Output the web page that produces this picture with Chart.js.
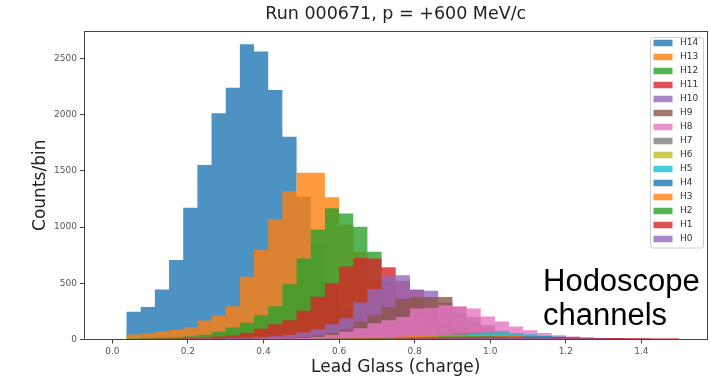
<!DOCTYPE html>
<html>
<head>
<meta charset="utf-8">
<script src="https://cdn.jsdelivr.net/npm/chart.js@4.4.1/dist/chart.umd.min.js"></script>
<style>
  body { margin: 0; background: #fff; }
  #wrap { width: 710px; height: 380px; position: relative; }
</style>
</head>
<body>
<div id="wrap"><canvas id="histChart"></canvas></div>
<script>
// Binning of the histogram: 40 bins from 0.0 to 1.5
const binStart = 0.0;
const binWidth = 0.0375;
const binCount = 40;

// Tick labels
const xTickValues = [0.0, 0.2, 0.4, 0.6, 0.8, 1.0, 1.2, 1.4];
const yTickValues = [0, 500, 1000, 1500, 2000, 2500];

// Hodoscope channels, in the order they were plotted (H14 first, H0 last)
const channels = ['H14', 'H13', 'H12', 'H11', 'H10', 'H9', 'H8', 'H7', 'H6', 'H5', 'H4', 'H3', 'H2', 'H1', 'H0'];
const channelColors = [
    '31,119,180', '255,127,14', '44,160,44', '214,39,40', '148,103,189',
    '140,86,75', '227,119,194', '127,127,127', '188,189,34', '23,190,207',
    '31,119,180', '255,127,14', '44,160,44', '214,39,40', '148,103,189'
];

// Counts per bin for each channel
const h14 = [0, 246, 290, 445, 706, 1171, 1551, 2011, 2239, 2625, 2560, 2219, 1803, 1270, 850, 500, 260, 120, 50, 22, 10, 6, 4, 3, 2, 2, 1, 1, 1, 0, 0, 0, 0, 0, 0, 0, 0, 0, 0, 0];
const h13 = [0, 45, 55, 68, 85, 110, 170, 215, 295, 557, 795, 1068, 1320, 1483, 1483, 1265, 1020, 780, 540, 340, 200, 110, 60, 35, 22, 15, 10, 7, 5, 4, 3, 2, 2, 1, 1, 1, 0, 0, 0, 0];
const h12 = [0, 10, 12, 15, 20, 28, 42, 68, 107, 150, 216, 296, 492, 721, 979, 1166, 1121, 1002, 780, 520, 330, 200, 120, 70, 42, 26, 16, 10, 7, 5, 4, 3, 2, 2, 1, 1, 1, 0, 0, 0];
const h11 = [0, 5, 6, 8, 10, 13, 18, 26, 38, 60, 95, 135, 172, 255, 380, 500, 650, 725, 721, 643, 520, 440, 260, 140, 80, 50, 33, 25, 19, 16, 14, 12, 11, 10, 9, 8, 8, 7, 7, 6];
const h10 = [0, 2, 3, 4, 5, 6, 8, 10, 13, 17, 22, 30, 42, 62, 92, 135, 190, 330, 450, 560, 572, 445, 433, 330, 230, 150, 92, 58, 36, 23, 15, 10, 7, 5, 4, 3, 2, 2, 1, 1];
const h9 = [0, 1, 2, 2, 3, 4, 5, 6, 7, 8, 9, 10, 12, 20, 35, 55, 90, 155, 215, 290, 360, 375, 378, 378, 290, 200, 130, 80, 50, 32, 20, 13, 9, 6, 4, 3, 2, 2, 1, 1];
const h8 = [0, 0, 1, 1, 2, 2, 3, 3, 4, 5, 6, 8, 10, 14, 22, 40, 68, 100, 145, 172, 201, 276, 280, 305, 295, 276, 205, 160, 115, 83, 58, 38, 27, 19, 14, 10, 7, 5, 4, 3];
const h7 = [0, 0, 0, 0, 0, 0, 0, 1, 1, 1, 2, 2, 3, 4, 5, 6, 8, 10, 13, 17, 22, 28, 34, 42, 55, 60, 55, 46, 36, 26, 18, 12, 8, 5, 3, 2, 1, 1, 1, 0];
const h6 = [0, 0, 0, 0, 0, 0, 0, 0, 0, 1, 1, 1, 2, 2, 3, 4, 5, 7, 9, 12, 16, 21, 27, 33, 40, 46, 50, 48, 42, 34, 26, 18, 12, 8, 5, 3, 2, 1, 1, 0];
const h5 = [0, 0, 0, 0, 0, 0, 0, 0, 0, 0, 1, 1, 1, 2, 2, 3, 4, 5, 7, 9, 12, 16, 22, 30, 40, 52, 62, 65, 58, 46, 34, 24, 16, 10, 6, 4, 2, 1, 1, 0];
const h4 = [0, 0, 0, 0, 0, 0, 0, 0, 0, 0, 0, 1, 1, 1, 1, 2, 2, 3, 4, 5, 6, 8, 10, 13, 16, 20, 24, 27, 29, 30, 28, 24, 19, 14, 10, 8, 7, 6, 3, 1];
const h3 = [0, 0, 0, 0, 0, 0, 0, 0, 1, 1, 1, 2, 2, 3, 4, 6, 8, 11, 15, 20, 26, 34, 38, 38, 36, 38, 40, 37, 32, 25, 18, 12, 8, 5, 3, 2, 1, 1, 0, 0];
const h2 = [0, 1, 1, 1, 1, 1, 2, 2, 2, 3, 3, 4, 4, 5, 6, 7, 8, 10, 12, 15, 18, 22, 25, 28, 30, 30, 28, 25, 20, 15, 11, 8, 5, 3, 2, 1, 1, 0, 0, 0];
const h1 = [0, 1, 1, 1, 1, 2, 2, 2, 3, 3, 3, 4, 4, 5, 5, 6, 7, 8, 9, 10, 12, 14, 16, 18, 20, 22, 24, 25, 24, 23, 21, 19, 17, 15, 14, 13, 12, 11, 10, 9];
const h0 = [0, 1, 1, 1, 1, 1, 1, 2, 2, 2, 2, 2, 3, 3, 3, 4, 4, 5, 5, 6, 7, 8, 9, 10, 11, 12, 13, 14, 15, 14, 13, 12, 10, 8, 6, 5, 4, 3, 2, 1];

const channelCounts = [h14, h13, h12, h11, h10, h9, h8, h7, h6, h5, h4, h3, h2, h1, h0];

const mplFont = '"DejaVu Sans", sans-serif';

// Each channel becomes a filled step outline (one point per bin edge)
const datasets = channels.map((name, k) => {
    const points = channelCounts[k].map((c, i) => ({ x: binStart + i * binWidth, y: c }));
    points.push({ x: binStart + binCount * binWidth, y: 0 });
    return {
        label: name,
        data: points,
        stepped: 'before',
        fill: 'origin',
        backgroundColor: 'rgba(' + channelColors[k] + ',0.8)',
        borderColor: 'rgba(0,0,0,0)',
        borderWidth: 0,
        pointRadius: 0,
        order: channels.length - k // H14 drawn first, H0 on top
    };
});

// Frame, legend box and the slide annotation
const overlayPlugin = {
    id: 'overlay',
    afterDatasetsDraw(chart) {
        const { ctx, chartArea: a } = chart;
        ctx.save();
        ctx.strokeStyle = '#444';
        ctx.lineWidth = 1;
        ctx.strokeRect(Math.round(a.left) + 0.5, Math.round(a.top) + 0.5,
            Math.round(a.right - a.left) - 1, Math.round(a.bottom - a.top) - 1);
        ctx.restore();
    },
    afterDraw(chart) {
        const { ctx, chartArea: a } = chart;
        ctx.save();
        // legend
        const boxW = 53, rowH = 14;
        const bx = a.right - 4.5 - boxW, by = a.top + 6;
        const boxH = channels.length * rowH + 0.5;
        ctx.fillStyle = 'rgba(255,255,255,0.8)';
        ctx.strokeStyle = '#d0d0d0';
        ctx.lineWidth = 1;
        ctx.beginPath();
        ctx.roundRect(bx + 0.5, by + 0.5, boxW, boxH, 2);
        ctx.fill();
        ctx.stroke();
        ctx.font = '9px ' + mplFont;
        ctx.textBaseline = 'middle';
        channels.forEach((name, k) => {
            const cy = by + 6 + k * rowH;
            ctx.fillStyle = 'rgba(' + channelColors[k] + ',0.8)';
            ctx.fillRect(bx + 3.5, cy - 3.25, 19, 6.5);
            ctx.fillStyle = '#333';
            ctx.fillText(name, bx + 30, cy);
        });
        // annotation
        ctx.fillStyle = '#000';
        ctx.font = '31px "Liberation Sans", Arial, sans-serif';
        ctx.textBaseline = 'alphabetic';
        ctx.fillText('Hodoscope', 543, 290.5);
        ctx.fillText('channels', 543, 325);
        ctx.restore();
    }
};

const ctx = document.getElementById('histChart').getContext('2d');
const histChart = new Chart(ctx, {
    type: 'line',
    data: { datasets: datasets },
    options: {
        responsive: true,
        maintainAspectRatio: false,
        animation: false,
        layout: { padding: { left: 0, right: 2.5, top: 0, bottom: 0 } },
        plugins: {
            legend: { display: false },
            tooltip: { enabled: false },
            title: {
                display: true,
                text: 'Run 000671, p = +600 MeV/c',
                fullSize: false,
                color: '#222',
                font: { family: mplFont, size: 17.5, weight: 'normal', lineHeight: 1.2 },
                padding: { top: 3.7, bottom: 6.3 }
            }
        },
        scales: {
            x: {
                type: 'linear',
                min: -0.075,
                max: 1.575,
                offset: false,
                afterBuildTicks: s => { s.ticks = xTickValues.map(v => ({ value: v })); },
                afterFit: s => { s.height = 40.5; },
                ticks: {
                    callback: v => v.toFixed(1),
                    autoSkip: false,
                    maxRotation: 0,
                    padding: 3,
                    color: '#555',
                    font: { family: mplFont, size: 9 }
                },
                grid: { display: true, drawOnChartArea: false, drawTicks: true, tickLength: 4, color: '#444' },
                border: { display: false },
                title: {
                    display: true,
                    text: 'Lead Glass (charge)',
                    color: '#222',
                    font: { family: mplFont, size: 17, lineHeight: 1.2 },
                    padding: { top: 0, bottom: 2 }
                }
            },
            y: {
                min: 0,
                max: 2743,
                afterBuildTicks: s => { s.ticks = yTickValues.map(v => ({ value: v })); },
                afterFit: s => { s.width = 84; },
                ticks: {
                    callback: v => String(v),
                    padding: 3,
                    color: '#555',
                    font: { family: mplFont, size: 9 }
                },
                grid: { display: true, drawOnChartArea: false, drawTicks: true, tickLength: 4, color: '#444' },
                border: { display: false },
                title: {
                    display: true,
                    text: 'Counts/bin',
                    color: '#222',
                    font: { family: mplFont, size: 17, lineHeight: 1.2 },
                    padding: { top: 30, bottom: 0 }
                }
            }
        }
    },
    plugins: [overlayPlugin]
});
</script>
</body>
</html>
